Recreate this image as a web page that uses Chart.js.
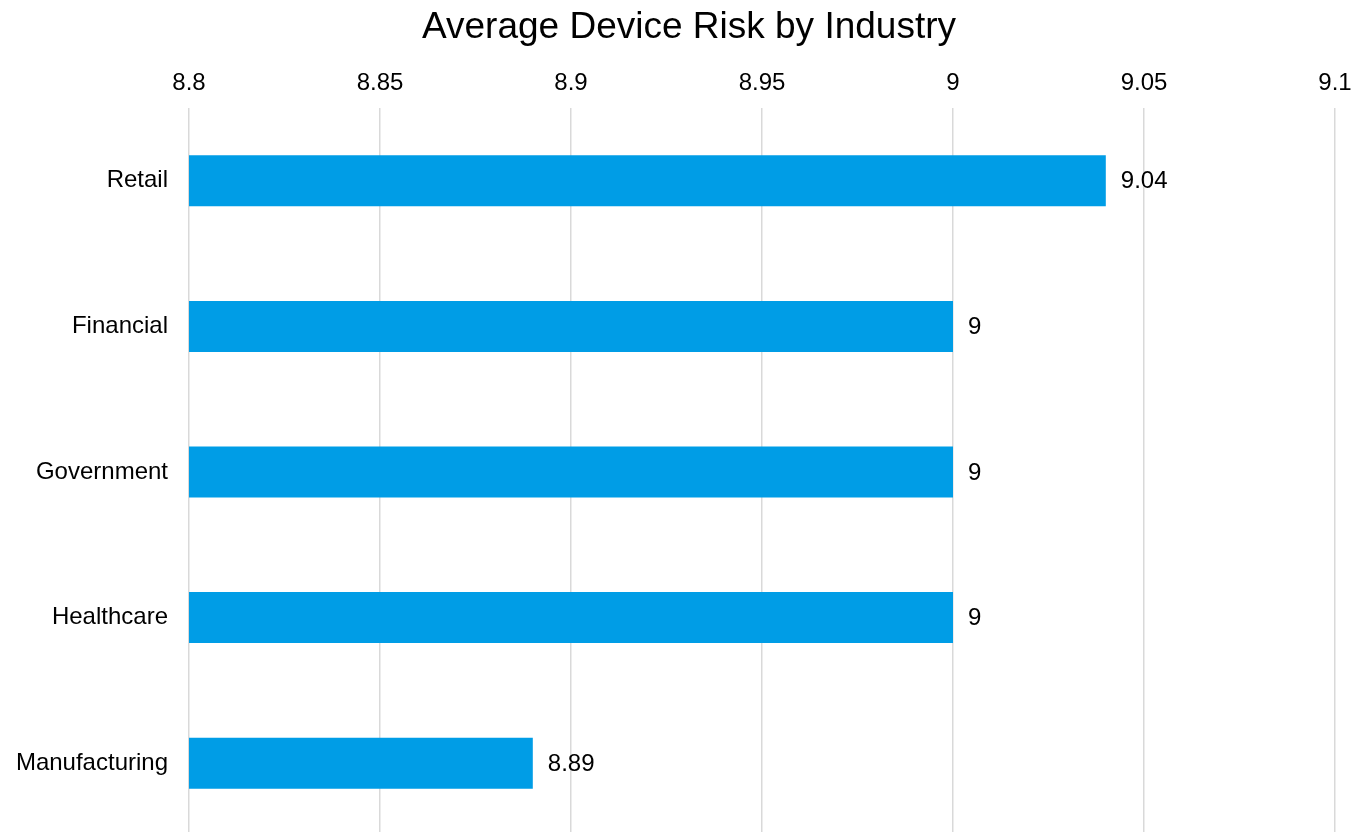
<!DOCTYPE html>
<html>
<head>
<meta charset="utf-8">
<script src="https://cdn.jsdelivr.net/npm/chart.js@4/dist/chart.umd.min.js"></script>
<style>
  html, body { margin: 0; padding: 0; background: #fff; overflow: hidden; }
  canvas { display: block; }
</style>
</head>
<body>
<canvas id="c" width="1353" height="836"></canvas>
<script>
const categories = ['Retail', 'Financial', 'Government', 'Healthcare', 'Manufacturing'];
const riskValues = [9.04, 9.00, 9.00, 9.00, 8.89];
const axisMin = 8.8;
const axisMax = 9.1;
const axisStep = 0.05;

const FONT = "'Liberation Sans', Arial, sans-serif";

// Writes each bar's value just past its end
const valueLabels = {
  id: 'valueLabels',
  afterDatasetsDraw(chart) {
    const ctx = chart.ctx;
    const meta = chart.getDatasetMeta(0);
    ctx.save();
    ctx.font = '24px ' + FONT;
    ctx.fillStyle = '#000';
    ctx.textAlign = 'left';
    ctx.textBaseline = 'middle';
    meta.data.forEach((bar, i) => {
      const v = chart.data.datasets[0].data[i];
      ctx.fillText(String(+v.toFixed(2)), bar.x + 15, bar.y + 1);
    });
    ctx.restore();
  }
};

// Nudges the title block so its text sits a little right of the canvas centre
const titleShift = {
  id: 'titleShift',
  afterLayout(chart) {
    const t = chart.titleBlock;
    if (t) { t.left += 27; }
  }
};

// Drop the half-label overhang padding that scales add around the plot area
const noOverhang = scale => {
  scale.paddingTop = 0;
  scale.paddingBottom = 0;
  scale.paddingLeft = 0;
  scale.paddingRight = 0;
};

new Chart(document.getElementById('c'), {
  type: 'bar',
  data: {
    labels: categories,
    datasets: [{
      data: riskValues,
      backgroundColor: '#009de6',
      borderWidth: 0,
      barPercentage: 0.35,
      categoryPercentage: 1.0
    }]
  },
  options: {
    indexAxis: 'y',
    responsive: false,
    animation: false,
    layout: {
      autoPadding: false,
      padding: { left: 16, right: 18, top: 0, bottom: 0 }
    },
    plugins: {
      legend: { display: false },
      tooltip: { enabled: false },
      title: {
        display: true,
        text: 'Average Device Risk by Industry',
        color: '#000',
        font: { family: FONT, size: 37, weight: 'normal' },
        padding: { top: 6, bottom: 7.8 }
      }
    },
    scales: {
      x: {
        position: 'top',
        min: axisMin,
        max: axisMax,
        border: { display: false },
        grid: { color: '#d9d9d9', lineWidth: 1.5, drawTicks: false },
        afterFit: noOverhang,
        ticks: {
          stepSize: axisStep,
          color: '#000',
          padding: 10.5,
          font: { family: FONT, size: 24 },
          callback: v => String(+v.toFixed(2))
        }
      },
      y: {
        border: { display: false },
        grid: { display: false, drawTicks: false },
        afterFit: scale => { noOverhang(scale); scale.width = 173; },
        ticks: {
          color: '#000',
          padding: 21,
          font: { family: FONT, size: 24 }
        }
      }
    }
  },
  plugins: [valueLabels, titleShift]
});
</script>
</body>
</html>
